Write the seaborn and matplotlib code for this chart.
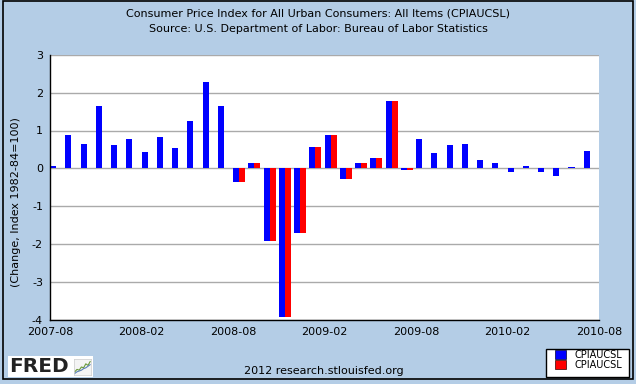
import numpy as np
import pandas as pd
import seaborn as sns
import matplotlib.pyplot as plt
from matplotlib.patches import Patch, Rectangle

# monthly change in CPI
months = [d.strftime('%Y-%m') for d in pd.date_range('2007-08', '2010-07', freq='MS')]
blue_vals = [0.06, 0.88, 0.64, 1.64, 0.62, 0.77, 0.43, 0.83, 0.54, 1.25, 2.28, 1.64,
             -0.35, 0.14, -1.91, -3.91, -1.70, 0.56, 0.88, -0.27, 0.14, 0.27, 1.78, -0.04,
             0.77, 0.40, 0.62, 0.64, 0.22, 0.14, -0.10, 0.06, -0.10, -0.20, 0.04, 0.46]
red_vals = [None] * 12 + [-0.35, 0.14, -1.91, -3.91, -1.70, 0.56, 0.88, -0.27, 0.14, 0.27, 1.78, -0.04] + [None] * 12
tick_labels = ['2007-08', '2008-02', '2008-08', '2009-02', '2009-08', '2010-02', '2010-08']
y_ticks = [3, 2, 1, 0, -1, -2, -3, -4]
logo_line = [0.2, 0.35, 0.3, 0.5, 0.45, 0.7, 0.6, 0.85]
logo_line2 = [0.1, 0.2, 0.25, 0.3, 0.4, 0.45, 0.55, 0.65]

df = pd.DataFrame({
    'month': months * 2,
    'value': blue_vals + red_vals,
    'series': ['s1'] * len(months) + ['s2'] * len(months),
})
df['value'] = pd.to_numeric(df['value'])

sns.set_style("white")
plt.rcParams['font.family'] = ['DejaVu Sans']
plt.rcParams['axes.unicode_minus'] = False
plt.rcParams['text.color'] = 'black'
plt.rcParams['xtick.labelcolor'] = 'black'
plt.rcParams['ytick.labelcolor'] = 'black'

BG = '#b4cde6'
fig = plt.figure(figsize=(6.36, 3.84), dpi=100)
fig.patch.set_facecolor(BG)

W, H = 636, 384
ax = fig.add_axes([50 / W, (H - 320) / H, (599 - 50) / W, (320 - 54.7) / H])
ax.set_facecolor('white')

sns.barplot(data=df, x='month', y='value', hue='series', order=months,
            hue_order=['s1', 's2'], palette={'s1': '#0000ff', 's2': '#ff0000'},
            width=0.8, dodge=True, saturation=1, linewidth=0, legend=False,
            errorbar=None, ax=ax)

ax.set_xlim(-0.4, len(months) - 0.4)
ax.set_ylim(-4, 3)
ax.set_xticks([-0.4 + 6 * k for k in range(len(tick_labels))])
ax.set_xticklabels(tick_labels)
ax.set_yticks(y_ticks)
ax.set_xlabel('')
ax.set_ylabel('')

ax.set_axisbelow(True)
ax.yaxis.grid(True, color='#aaaaaa', lw=1)
ax.xaxis.grid(False)
for s in ['top', 'right']:
    ax.spines[s].set_visible(False)
for s in ['left', 'bottom']:
    ax.spines[s].set_color('black')
    ax.spines[s].set_linewidth(1)

ax.tick_params(axis='y', direction='in', length=5, width=1, color='black',
               labelsize=8, pad=5)
ax.tick_params(axis='x', direction='in', length=4, width=1, color='#888888',
               labelsize=8, pad=5)

# titles and labels
fig.text(0.5, 1 - 14 / H, 'Consumer Price Index for All Urban Consumers: All Items (CPIAUCSL)',
         ha='center', va='center', fontsize=8)
fig.text(0.5, 1 - 29 / H, 'Source: U.S. Department of Labor: Bureau of Labor Statistics',
         ha='center', va='center', fontsize=8)
fig.text(16 / W, 1 - 202 / H, '(Change, Index 1982-84=100)', rotation=90,
         ha='center', va='center', fontsize=8)
fig.text(324 / W, 1 - 371 / H, '2012 research.stlouisfed.org',
         ha='center', va='center', fontsize=8)

# legend: own box, legend without frame inside it
fig.patches.append(Rectangle((546 / W, (H - 377.3) / H), 83 / W, 28 / H,
                             transform=fig.transFigure, facecolor='white',
                             edgecolor='black', lw=1, zorder=1))
handles = [Patch(facecolor='#0000ff', edgecolor='#000033', lw=0.5),
           Patch(facecolor='#ff0000', edgecolor='#330000', lw=0.5)]
leg = fig.legend(handles, ['CPIAUCSL', 'CPIAUCSL'], loc='upper left',
                 bbox_to_anchor=(555 / W, 1 - 350 / H), fontsize=7,
                 frameon=False, handlelength=1.1, handleheight=1.1,
                 labelspacing=0.0, borderpad=0, handletextpad=0.9,
                 borderaxespad=0)
leg.set_zorder(3)

# FRED logo
fig.patches.append(Rectangle((8 / W, (H - 377) / H), 85 / W, 21 / H,
                             transform=fig.transFigure, facecolor='white',
                             edgecolor='none', zorder=1))
fig.text(9 / W, 1 - 367 / H, 'FRED', ha='left', va='center', fontsize=14.5,
         fontweight='heavy', color='#222222')
iax = fig.add_axes([74 / W, (H - 375) / H, 17 / W, 16 / H], zorder=3)
iax.plot(logo_line, color='#6a9a3a', lw=0.8)
iax.plot(logo_line2, color='#5a7fb5', lw=0.8)
iax.set_ylim(0, 1)
iax.set_xticks([])
iax.set_yticks([])
iax.set_facecolor('#f4f4f4')
for s in iax.spines.values():
    s.set_color('#cccccc')
    s.set_linewidth(0.5)

# outer frame
fig.patches.append(Rectangle((3 / W, 5 / H), 630 / W, 378 / H,
                             transform=fig.transFigure, fill=False,
                             edgecolor='black', lw=1.2))

fig.savefig('out.png', dpi=100, facecolor=BG)
